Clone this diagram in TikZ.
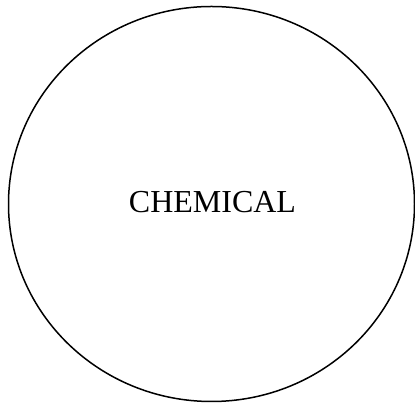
\documentclass[tikz,border=0pt]{standalone}
\usepackage{fontspec}
\setmainfont{Liberation Serif}
\usetikzlibrary{positioning,shapes.geometric}

\begin{document}
\begin{tikzpicture}[x=1pt,y=1pt,
  blob/.style={ellipse,draw=black,line width=1.5pt,minimum width=406pt,minimum height=395pt,inner sep=0pt}]
\useasboundingbox (0,0) rectangle (415,403);
\node[blob] (chem) at (211.5,199) {};
\node[font=\fontsize{32}{36}\selectfont] (label) at (212.5,200.5) {CHEMICAL};
\end{tikzpicture}
\end{document}
